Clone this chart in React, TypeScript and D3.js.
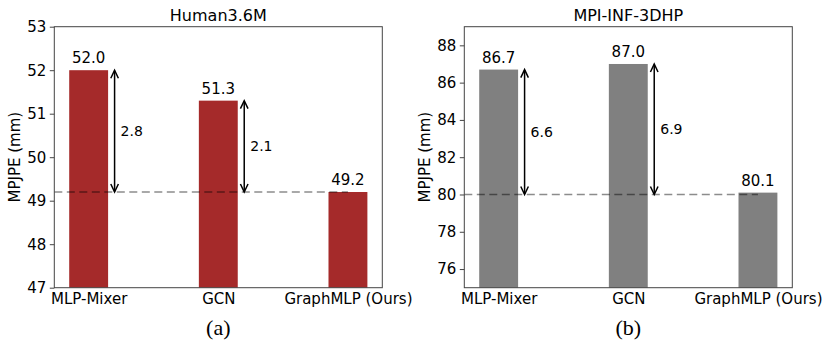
import React, { useRef, useEffect } from "react";
import * as d3 from "d3";

const CATEGORIES = ["MLP-Mixer", "GCN", "GraphMLP (Ours)"];

const H36M_VALUES = [52.0, 51.3, 49.2];
const H36M_GAPS = ["2.8", "2.1"];
const H36M_BASE = 49.2;
const H36M_TICKS = [47, 48, 49, 50, 51, 52, 53];

const MPI_VALUES = [86.7, 87.0, 80.1];
const MPI_GAPS = ["6.6", "6.9"];
const MPI_BASE = 80.0;
const MPI_TICKS = [76, 78, 80, 82, 84, 86, 88];

const WIDTH = 830;
const HEIGHT = 346;
const SANS = "DejaVu Sans, sans-serif";

type Panel = {
  title: string;
  caption: string;
  values: number[];
  gaps: string[];
  base: number;
  ticks: number[];
  domain: [number, number];
  color: string;
  left: number;
};

const PANELS: Panel[] = [
  {
    title: "Human3.6M",
    caption: "(a)",
    values: H36M_VALUES,
    gaps: H36M_GAPS,
    base: H36M_BASE,
    ticks: H36M_TICKS,
    domain: [47, 53],
    color: "#a52a2a",
    left: 54.3,
  },
  {
    title: "MPI-INF-3DHP",
    caption: "(b)",
    values: MPI_VALUES,
    gaps: MPI_GAPS,
    base: MPI_BASE,
    ticks: MPI_TICKS,
    domain: [75, 89],
    color: "#808080",
    left: 464.3,
  },
];

function drawPanel(svg: d3.Selection<SVGSVGElement, unknown, null, undefined>, p: Panel) {
  const top = 26.7;
  const bottom = 287.7;
  const w = 328;
  const right = p.left + w;

  const g = svg.append("g");

  const x = d3.scaleLinear().domain([-0.265, 2.265]).range([p.left, right]);
  const y = d3.scaleLinear().domain(p.domain).range([bottom, top]);
  const barW = x(0.3) - x(0);

  // bars
  g.selectAll("rect.bar")
    .data(p.values)
    .enter()
    .append("rect")
    .attr("x", (d, i) => x(i) - barW / 2)
    .attr("y", (d) => y(d))
    .attr("width", barW)
    .attr("height", (d) => bottom - y(d))
    .attr("fill", p.color);

  // dashed baseline
  g.append("line")
    .attr("x1", p.left)
    .attr("x2", x(2))
    .attr("y1", y(p.base))
    .attr("y2", y(p.base))
    .attr("stroke", "#000")
    .attr("stroke-opacity", 0.45)
    .attr("stroke-width", 1.5)
    .attr("stroke-dasharray", "8,4.5");

  // value labels
  g.selectAll("text.val")
    .data(p.values)
    .enter()
    .append("text")
    .attr("x", (d, i) => x(i))
    .attr("y", (d) => y(d) - 7)
    .attr("text-anchor", "middle")
    .style("font-family", SANS)
    .style("font-size", "15px")
    .attr("fill", "#000")
    .text((d) => d.toFixed(1));

  // double arrows
  p.gaps.forEach((label, i) => {
    const ax = x(i + 0.2);
    const y1 = y(p.values[i]);
    const y2 = y(p.base);
    const head = 8;
    const hw = 3.8;
    g.append("line")
      .attr("x1", ax)
      .attr("x2", ax)
      .attr("y1", y1 + 0.5)
      .attr("y2", y2 - 0.5)
      .attr("stroke", "#000")
      .attr("stroke-width", 1.5);
    g.append("path")
      .attr("d", `M${ax - hw},${y1 + head} L${ax},${y1} L${ax + hw},${y1 + head}`)
      .attr("fill", "none")
      .attr("stroke", "#000")
      .attr("stroke-width", 1.5);
    g.append("path")
      .attr("d", `M${ax - hw},${y2 - head} L${ax},${y2} L${ax + hw},${y2 - head}`)
      .attr("fill", "none")
      .attr("stroke", "#000")
      .attr("stroke-width", 1.5);
    g.append("text")
      .attr("x", ax + 6)
      .attr("y", (y1 + y2) / 2)
      .attr("dominant-baseline", "central")
      .style("font-family", SANS)
      .style("font-size", "14px")
      .text(label);
  });

  // frame
  g.append("rect")
    .attr("x", p.left)
    .attr("y", top)
    .attr("width", w)
    .attr("height", bottom - top)
    .attr("fill", "none")
    .attr("stroke", "#444")
    .attr("stroke-width", 1);

  // y axis
  const yAxis = d3.axisLeft(y).tickValues(p.ticks).tickSize(4.5).tickPadding(3.5).tickFormat(d3.format("d"));
  const ya = g.append("g").attr("transform", `translate(${p.left},0)`).call(yAxis);
  ya.select(".domain").remove();
  ya.selectAll("line").attr("stroke", "#444");
  ya.selectAll("text")
    .style("font-family", SANS)
    .style("font-size", "15px")
    .attr("fill", "#000");

  // x axis labels
  const xAxis = d3
    .axisBottom(x)
    .tickValues([0, 1, 2])
    .tickSize(0)
    .tickPadding(6)
    .tickFormat((d) => CATEGORIES[d as number]);
  const xa = g.append("g").attr("transform", `translate(0,${bottom})`).call(xAxis);
  xa.select(".domain").remove();
  xa.selectAll("text")
    .style("font-family", SANS)
    .style("font-size", "15px")
    .attr("fill", "#000");

  // y label
  g.append("text")
    .attr("transform", `translate(${p.left - 39},${(top + bottom) / 2}) rotate(-90)`)
    .attr("text-anchor", "middle")
    .attr("dominant-baseline", "central")
    .style("font-family", SANS)
    .style("font-size", "15px")
    .text("MPJPE (mm)");

  // title
  g.append("text")
    .attr("x", p.left + w / 2)
    .attr("y", 21)
    .attr("text-anchor", "middle")
    .style("font-family", SANS)
    .style("font-size", "16px")
    .text(p.title);

  // caption
  g.append("text")
    .attr("x", p.left + w / 2)
    .attr("y", 335)
    .attr("text-anchor", "middle")
    .style("font-family", "Liberation Serif, Times New Roman, serif")
    .style("font-size", "22px")
    .text(p.caption);
}

export default function App() {
  const svgRef = useRef<SVGSVGElement>(null);

  useEffect(() => {
    const svg = d3.select(svgRef.current!);
    svg.selectAll("*").remove();
    svg.append("rect").attr("width", WIDTH).attr("height", HEIGHT).attr("fill", "#fff");
    PANELS.forEach((p) => drawPanel(svg, p));
  }, []);

  return (
    <svg
      ref={svgRef}
      width={WIDTH}
      height={HEIGHT}
      style={{ position: "absolute", left: 0, top: 0 }}
    />
  );
}
